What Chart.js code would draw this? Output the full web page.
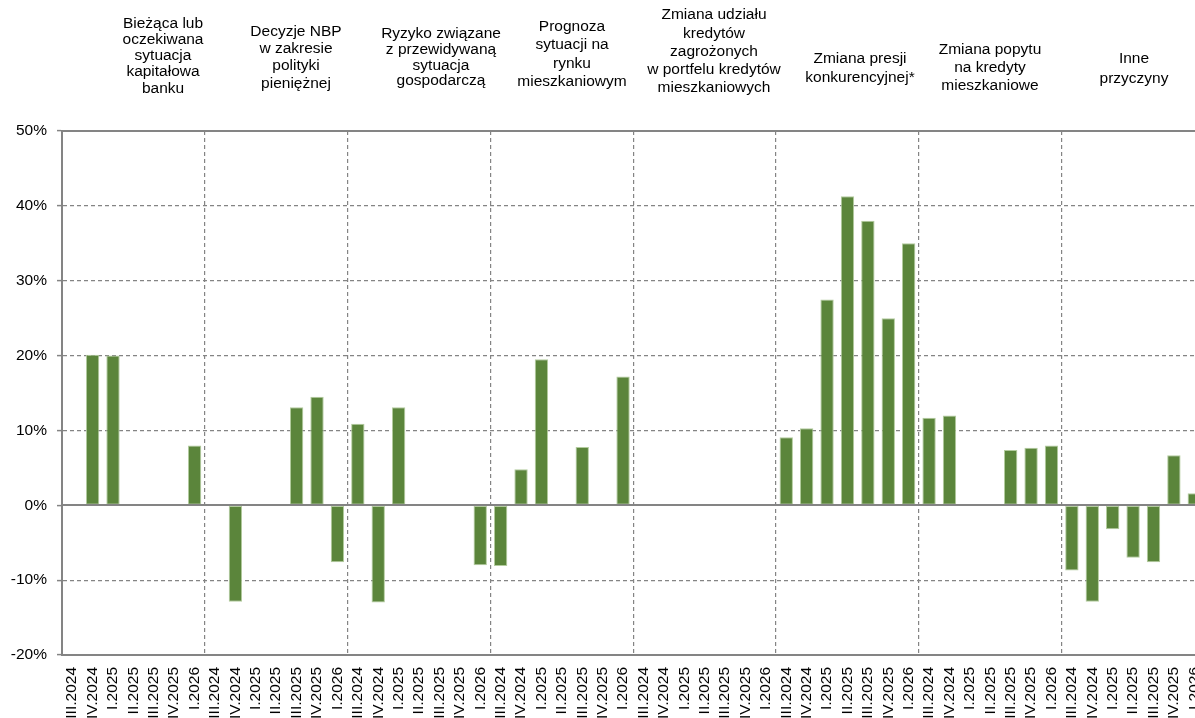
<!DOCTYPE html>
<html><head><meta charset="utf-8">
<script src="https://cdn.jsdelivr.net/npm/chart.js@4.4.1/dist/chart.umd.min.js"></script>
<style>
html,body{margin:0;padding:0;overflow:hidden;background:#fff;width:1195px;height:718px;}
#wrap{position:absolute;left:0;top:0;width:1225px;height:718px;}
canvas{display:block;}
</style></head><body>
<div id="wrap"><canvas id="c" width="1225" height="718"></canvas></div>
<script>
// ---- data ----
const quarters = ['III.2024','IV.2024','I.2025','II.2025','III.2025','IV.2025','I.2026'];
const factorTitles = [
  ['Bieżąca lub','oczekiwana','sytuacja','kapitałowa','banku'],
  ['Decyzje NBP','w zakresie','polityki','pieniężnej'],
  ['Ryzyko związane','z przewidywaną','sytuacja','gospodarczą'],
  ['Prognoza','sytuacji na','rynku','mieszkaniowym'],
  ['Zmiana udziału','kredytów','zagrożonych','w portfelu kredytów','mieszkaniowych'],
  ['Zmiana presji','konkurencyjnej*'],
  ['Zmiana popytu','na kredyty','mieszkaniowe'],
  ['Inne','przyczyny']
];
const capitalSituation = [0, 20.1, 20.0, 0, 0, 0, 8.0];
const nbpDecisions     = [0, -12.9, 0, 0, 13.1, 14.5, -7.6];
const economicRisk     = [10.9, -13.0, 13.1, 0, 0, 0, -8.0];
const housingForecast  = [-8.1, 4.8, 19.5, 0, 7.8, 0, 17.2];
const nplShare         = [0, 0, 0, 0, 0, 0, 0];
const competition      = [9.1, 10.3, 27.5, 41.3, 38.0, 25.0, 35.0];
const demandChange     = [11.7, 12.0, 0, 0, 7.4, 7.7, 8.0];
const otherReasons     = [-8.7, -12.9, -3.2, -7.0, -7.6, 6.7, 1.6];
const yTicks = [-20, -10, 0, 10, 20, 30, 40, 50];

const factorSeries = [capitalSituation, nbpDecisions, economicRisk, housingForecast,
                      nplShare, competition, demandChange, otherReasons];
const labels = [];
factorSeries.forEach(() => quarters.forEach(q => labels.push(q)));
const values = [].concat(...factorSeries);

// ---- styling ----
const FONT = '"Liberation Sans", Arial, sans-serif';
const GRAY = '#848484';
const groupSize = quarters.length;

const titlePlugin = {
  id: 'groupTitles',
  afterDraw(chart, args, opts) {
    const ctx = chart.ctx;
    ctx.save();
    ctx.fillStyle = '#000';
    ctx.font = '15.5px ' + FONT;
    ctx.textAlign = 'center';
    ctx.textBaseline = 'middle';
    factorTitles.forEach((lines, g) => {
      lines.forEach((t, k) => {
        ctx.fillText(t, opts.x[g], opts.y[g] + k * opts.lh[g]);
      });
    });
    ctx.restore();
  }
};

const frameLines = {
  id: 'frameLines',
  afterDatasetsDraw(chart) {
    const {ctx, chartArea: a, scales: {y}} = chart;
    ctx.save();
    ctx.strokeStyle = GRAY;
    ctx.lineWidth = 2;
    ctx.setLineDash([]);
    [0, 50].forEach(v => {
      const py = Math.round(y.getPixelForValue(v));
      ctx.beginPath();
      ctx.moveTo(a.left, py);
      ctx.lineTo(a.right, py);
      ctx.stroke();
    });
    ctx.restore();
  }
};

new Chart(document.getElementById('c'), {
  type: 'bar',
  data: {
    labels: labels,
    datasets: [{
      data: values,
      backgroundColor: '#5b853b',
      borderColor: '#b3cc9e',
      borderWidth: 1,
      borderSkipped: false,
      barPercentage: 0.655,
      categoryPercentage: 1.0
    }]
  },
  options: {
    responsive: false,
    animation: false,
    devicePixelRatio: 1,
    layout: { padding: { left: 0, top: 131, right: 12, bottom: 0 } },
    plugins: {
      legend: { display: false },
      tooltip: { enabled: false },
      groupTitles: {
        x: [163, 296, 441, 572, 714, 860, 990, 1134],
        y: [23.5, 31.5, 34, 26.5, 15, 59, 50, 59],
        lh: [16.2, 17.3, 15.7, 18.5, 18.3, 18.5, 18, 19.5]
      }
    },
    scales: {
      x: {
        type: 'category',
        offset: true,
        afterFit(s) { s.height = 63; },
        grid: {
          offset: true,
          drawTicks: false,
          lineWidth: 1.2,
          color: ctx => (ctx.index > 0 && ctx.index < labels.length && ctx.index % groupSize === 0) ? GRAY : 'rgba(0,0,0,0)'
        },
        border: { display: true, color: GRAY, width: 2, dash: [4, 3] },
        ticks: {
          autoSkip: false,
          minRotation: 90,
          maxRotation: 90,
          padding: 12,
          color: '#000',
          font: { family: FONT, size: 15.5 }
        }
      },
      y: {
        min: -20,
        max: 50,
        afterFit(s) { s.width = 62; },
        afterBuildTicks(s) { s.ticks = yTicks.map(v => ({ value: v })); },
        grid: {
          drawTicks: true,
          tickLength: 5,
          tickColor: GRAY,
          tickWidth: 1.5,
          tickBorderDash: [],
          lineWidth: 1.2,
          color: ctx => (ctx.tick && (ctx.tick.value === 0 || ctx.tick.value === 50 || ctx.tick.value === -20)) ? 'rgba(0,0,0,0)' : GRAY
        },
        border: { display: true, color: GRAY, width: 2, dash: [4, 3] },
        ticks: {
          padding: 10,
          color: '#000',
          font: { family: FONT, size: 15.5 },
          callback: v => v + '%'
        }
      }
    }
  },
  plugins: [titlePlugin, frameLines]
});
</script>
</body></html>
